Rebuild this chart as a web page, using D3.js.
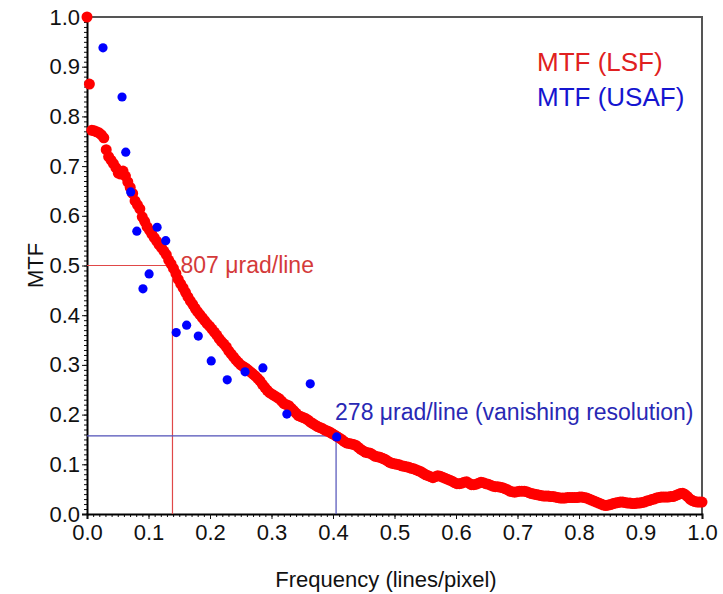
<!DOCTYPE html>
<html>
<head>
<meta charset="utf-8">
<script src="https://cdn.jsdelivr.net/npm/d3@7"></script>
<style>
  body { margin: 0; background: #fff; }
  text { font-family: "Liberation Sans", Arial, sans-serif; }
</style>
</head>
<body>
<svg id="chart"></svg>
<script>
// MTF from line spread function, sampled every 1/256 lines/pixel
var lsfStep = 1 / 256;
var lsfMtf = [
  1.000, 0.865, 0.772, 0.771, 0.769, 0.767, 0.763, 0.757, 0.733, 0.719,
  0.712, 0.705, 0.697, 0.686, 0.684, 0.690, 0.680, 0.668, 0.657, 0.645,
  0.630, 0.622, 0.614, 0.598, 0.589, 0.578, 0.571, 0.563, 0.556, 0.549,
  0.542, 0.536, 0.529, 0.522, 0.511, 0.503, 0.494, 0.484, 0.472, 0.463,
  0.455, 0.446, 0.437, 0.429, 0.422, 0.414, 0.407, 0.401, 0.395, 0.389,
  0.383, 0.378, 0.372, 0.366, 0.360, 0.353, 0.347, 0.342, 0.336, 0.328,
  0.322, 0.316, 0.310, 0.305, 0.300, 0.297, 0.294, 0.290, 0.286, 0.282,
  0.278, 0.273, 0.268, 0.261, 0.255, 0.249, 0.244, 0.241, 0.238, 0.235,
  0.232, 0.227, 0.222, 0.220, 0.218, 0.213, 0.208, 0.203, 0.198, 0.196,
  0.194, 0.192, 0.189, 0.185, 0.182, 0.179, 0.176, 0.174, 0.172, 0.169,
  0.167, 0.165, 0.162, 0.159, 0.156, 0.153, 0.150, 0.146, 0.143, 0.142,
  0.141, 0.140, 0.138, 0.134, 0.130, 0.127, 0.124, 0.123, 0.122, 0.119,
  0.116, 0.115, 0.114, 0.112, 0.110, 0.107, 0.104, 0.102, 0.101, 0.100,
  0.099, 0.097, 0.096, 0.095, 0.094, 0.092, 0.091, 0.089, 0.087, 0.085,
  0.082, 0.079, 0.077, 0.075, 0.073, 0.075, 0.077, 0.076, 0.074, 0.072,
  0.070, 0.068, 0.066, 0.063, 0.061, 0.061, 0.062, 0.064, 0.065, 0.062,
  0.059, 0.059, 0.060, 0.062, 0.064, 0.063, 0.061, 0.060, 0.058, 0.056,
  0.055, 0.055, 0.054, 0.053, 0.051, 0.049, 0.046, 0.045, 0.044, 0.045,
  0.046, 0.046, 0.046, 0.045, 0.043, 0.041, 0.040, 0.039, 0.038, 0.037,
  0.036, 0.036, 0.036, 0.035, 0.035, 0.034, 0.033, 0.032, 0.032, 0.032,
  0.033, 0.033, 0.033, 0.033, 0.033, 0.034, 0.034, 0.033, 0.032, 0.030,
  0.028, 0.026, 0.024, 0.022, 0.020, 0.018, 0.017, 0.018, 0.019, 0.021,
  0.022, 0.023, 0.024, 0.024, 0.023, 0.022, 0.022, 0.021, 0.021, 0.022,
  0.022, 0.023, 0.024, 0.026, 0.027, 0.029, 0.030, 0.032, 0.033, 0.034,
  0.034, 0.034, 0.034, 0.035, 0.035, 0.037, 0.039, 0.041, 0.042, 0.039,
  0.035, 0.030, 0.027, 0.025, 0.024, 0.024, 0.024
];

// MTF measured on the USAF target
var usafFreq = [0.026, 0.057, 0.063, 0.071, 0.081, 0.091, 0.101, 0.114, 0.128, 0.145,
                0.162, 0.181, 0.202, 0.228, 0.257, 0.286, 0.325, 0.363, 0.406];
var usafMtf  = [0.938, 0.839, 0.728, 0.648, 0.569, 0.453, 0.483, 0.577, 0.550, 0.365,
                0.380, 0.358, 0.308, 0.270, 0.286, 0.294, 0.201, 0.262, 0.155];

// resolution markers: [frequency, mtf]
var lsfMark = [0.139, 0.5];
var usafMark = [0.405, 0.157];

var xTicks = [0, 0.1, 0.2, 0.3, 0.4, 0.5, 0.6, 0.7, 0.8, 0.9, 1.0];
var yTicks = [0, 0.1, 0.2, 0.3, 0.4, 0.5, 0.6, 0.7, 0.8, 0.9, 1.0];

var lsf = lsfMtf.map(function(d, i) { return {f: i * lsfStep, m: d}; });
var usaf = usafFreq.map(function(d, i) { return {f: d, m: usafMtf[i]}; });

var W = 723, H = 594;
var margin = {top: 17, right: 21, bottom: 80, left: 87},
    width = W - margin.left - margin.right,
    height = H - margin.top - margin.bottom;

var svg = d3.select("#chart").attr("width", W).attr("height", H);
var g = svg.append("g")
    .attr("transform", "translate(" + margin.left + "," + margin.top + ")");

var x = d3.scaleLinear().domain([0, 1]).range([0, width]);
var y = d3.scaleLinear().domain([0, 1]).range([height, 0]);

// frame (top + right)
g.append("path")
    .attr("d", "M0,0H" + width + "V" + height)
    .attr("fill", "none")
    .attr("stroke", "#555")
    .attr("stroke-width", 2);

// minor ticks
var minor = d3.range(0, 101).map(function(d) { return d / 100; });
g.append("g").attr("transform", "translate(0," + height + ")")
    .call(d3.axisBottom(x).tickValues(minor).tickSize(3).tickFormat(""))
    .call(function(a) { a.select(".domain").remove(); });
g.append("g")
    .call(d3.axisLeft(y).tickValues(minor).tickSize(3).tickFormat(""))
    .call(function(a) { a.select(".domain").remove(); });

// major axes
var xAxis = g.append("g").attr("transform", "translate(0," + height + ")")
    .call(d3.axisBottom(x).tickValues(xTicks).tickSize(5).tickPadding(5).tickFormat(d3.format(".1f")));
var yAxis = g.append("g")
    .call(d3.axisLeft(y).tickValues(yTicks).tickSize(5).tickPadding(2).tickFormat(d3.format(".1f")));
[xAxis, yAxis].forEach(function(a) {
    a.select(".domain").attr("stroke-width", 2);
    a.selectAll("text").attr("font-size", 22).attr("fill", "#111")
        .style("font-family", "Liberation Sans, Arial, sans-serif");
});
g.selectAll(".tick line").attr("stroke", "#111");

// marker lines
g.append("path")
    .attr("d", "M0," + y(lsfMark[1]) + "H" + x(lsfMark[0]) + "V" + height)
    .attr("fill", "none").attr("stroke", "#e04848").attr("stroke-width", 1.2);
g.append("path")
    .attr("d", "M0," + y(usafMark[1]) + "H" + x(usafMark[0]) + "V" + height)
    .attr("fill", "none").attr("stroke", "#5050b8").attr("stroke-width", 1.2);

// LSF dots
g.selectAll(".lsf").data(lsf).enter().append("circle")
    .attr("class", "lsf")
    .attr("cx", function(d) { return x(d.f); })
    .attr("cy", function(d) { return y(d.m); })
    .attr("r", 5.5)
    .style("fill", "#ff0000");

// USAF dots
g.selectAll(".usaf").data(usaf).enter().append("circle")
    .attr("class", "usaf")
    .attr("cx", function(d) { return x(d.f); })
    .attr("cy", function(d) { return y(d.m); })
    .attr("r", 4.6)
    .style("fill", "#0000ff");

// annotations
g.append("text")
    .attr("x", x(lsfMark[0]) + 8).attr("y", y(lsfMark[1]) + 7)
    .attr("font-size", 23).attr("fill", "#d43a3a")
    .text("807 \u03bcrad/line");
g.append("text")
    .attr("x", x(usafMark[0]) - 1).attr("y", y(usafMark[1]) - 16)
    .attr("font-size", 23).attr("fill", "#2828b4")
    .text("278 \u03bcrad/line (vanishing resolution)");

// legend
g.append("text").attr("x", 450).attr("y", 54)
    .attr("font-size", 26).attr("fill", "#e02020").text("MTF (LSF)");
g.append("text").attr("x", 450).attr("y", 89)
    .attr("font-size", 26).attr("fill", "#1515d0").text("MTF (USAF)");

// axis titles
svg.append("text")
    .attr("transform", "translate(43," + (margin.top + height / 2) + ") rotate(-90)")
    .attr("text-anchor", "middle")
    .attr("font-size", 22).attr("fill", "#111")
    .text("MTF");
svg.append("text")
    .attr("x", 386).attr("y", 587)
    .attr("text-anchor", "middle")
    .attr("font-size", 22).attr("fill", "#111")
    .text("Frequency (lines/pixel)");
</script>
</body>
</html>
